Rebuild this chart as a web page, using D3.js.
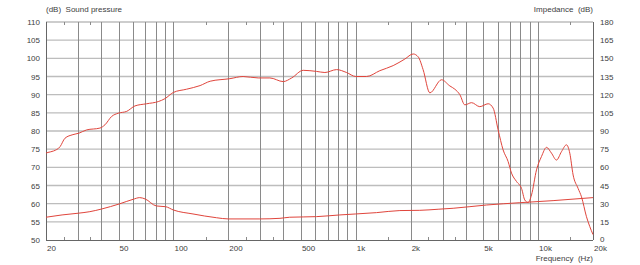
<!DOCTYPE html>
<html>
<head>
<meta charset="utf-8">
<script src="https://cdn.jsdelivr.net/npm/d3@7"></script>
<style>
  body { margin: 0; background: #fff; }
  svg { display: block; }
  text { font-family: "Liberation Sans", Arial, sans-serif; font-size: 8px; fill: #404040; }
</style>
</head>
<body>
<div id="chart"></div>
<script>
// SPL curve (Hz, dB) - left axis
var splFreq = [20, 20.5, 22, 23.9, 25.4, 28.1, 30.3, 33.4, 39.5, 42.1, 45.8, 49.8, 55.4, 61.5, 71.3, 82.6, 89.8, 99.8,
  118, 140, 159, 204, 241, 292, 338, 400, 445, 515, 610, 677, 785, 890, 1000, 1146, 1355, 1604, 1858, 2064, 2200,
  2340, 2548, 2954, 3280, 3495, 3722, 3964, 4316, 4788, 5320, 5668, 6036, 6428, 6846, 7148, 7614, 8110, 8453, 8812,
  9200, 9800, 10440, 11120, 11840, 12610, 13430, 14310, 14920, 15560, 16570, 17290, 18420, 19200, 20000];
var splDb = [73.9, 74.1, 74.5, 75.7, 78.0, 79.0, 79.4, 80.3, 80.8, 81.7, 84.0, 84.9, 85.4, 86.9, 87.5, 88.1, 88.9, 90.6,
  91.5, 92.5, 93.7, 94.4, 95.0, 94.6, 94.6, 93.6, 94.6, 96.7, 96.4, 96.1, 96.9, 96.1, 95.0, 95.0, 96.6, 98.0, 99.8, 101.2, 100.4,
  96.9, 90.5, 94.1, 92.4, 91.5, 90.0, 87.2, 87.8, 86.7, 87.5, 86.3, 80.3, 74.8, 71.6, 68.4, 66.1, 64.2, 61.0, 60.3,
  62.4, 69.3, 73.0, 75.5, 73.9, 72.0, 74.3, 76.2, 73.9, 67.9, 64.2, 61.9, 56.4, 53.7, 51.5];

// impedance curve (Hz, value) - right axis
var impFreq = [20, 24.5, 30, 34.8, 40.4, 50.5, 60.1, 65.3, 69.9, 80.6, 90.6, 99.8, 128, 172, 200, 298, 384, 434,
  610, 818, 1000, 1300, 1745, 2245, 2830, 3420, 5220, 7940, 12080, 20000];
var impVal = [18.8, 20.7, 22.1, 23.4, 25.6, 29.8, 33.6, 35.0, 33.9, 28.1, 27.5, 24.8, 21.5, 18.4, 17.4, 17.4, 17.9, 18.8,
  19.3, 20.7, 21.5, 22.6, 24.3, 24.5, 25.4, 26.2, 28.9, 30.8, 32.5, 35.0];

var gridFreq = [30, 40, 50, 60, 70, 80, 90, 100, 200, 300, 400, 500, 600, 700, 800, 900, 1000,
  2000, 3000, 4000, 5000, 6000, 7000, 8000, 9000, 10000];
var minorFreq = [25, 35, 150, 250, 350, 1500, 2500, 3500, 15000];
var labelFreq = [20, 50, 100, 200, 500, 1000, 2000, 5000, 10000, 20000];
var leftTicks = d3.range(50, 111, 5);
var rightTicks = d3.range(0, 181, 15);

var W = 640, H = 265;
var margin = {top: 22, right: 47, bottom: 25, left: 46};
var x0 = margin.left, x1 = W - margin.right, yTop = margin.top, yBot = H - margin.bottom;

var x = d3.scaleLog().domain([20, 20000]).range([x0, x1]);
var y = d3.scaleLinear().domain([50, 110]).range([yBot, yTop]);
var yR = d3.scaleLinear().domain([0, 180]).range([yBot, yTop]);

var svg = d3.select("#chart").append("svg")
    .attr("width", W)
    .attr("height", H);

// horizontal grid
svg.append("g").selectAll("line")
    .data(leftTicks.slice(1))
    .enter().append("line")
    .attr("x1", x0).attr("x2", x1)
    .attr("y1", function(d) { return y(d); })
    .attr("y2", function(d) { return y(d); })
    .style("stroke", "#bdbdbd")
    .style("stroke-width", 1.4);

// vertical grid
svg.append("g").selectAll("line")
    .data(gridFreq)
    .enter().append("line")
    .attr("x1", function(d) { return Math.round(x(d)) + 0.5; })
    .attr("x2", function(d) { return Math.round(x(d)) + 0.5; })
    .attr("y1", yTop).attr("y2", yBot)
    .style("stroke", "#8a8a8a")
    .style("stroke-width", 1);

// minor ticks top and bottom
minorFreq.forEach(function(f) {
  var px = Math.round(x(f)) + 0.5;
  svg.append("line").attr("x1", px).attr("x2", px).attr("y1", yTop).attr("y2", yTop + 3)
      .style("stroke", "#8a8a8a");
  svg.append("line").attr("x1", px).attr("x2", px).attr("y1", yBot - 3).attr("y2", yBot)
      .style("stroke", "#8a8a8a");
});

// frame
svg.append("line").attr("x1", x0 + 0.5).attr("x2", x0 + 0.5).attr("y1", yTop).attr("y2", yBot).style("stroke", "#666");
svg.append("line").attr("x1", x1 + 0.5).attr("x2", x1 + 0.5).attr("y1", yTop).attr("y2", yBot).style("stroke", "#666");
svg.append("line").attr("x1", x0).attr("x2", x1).attr("y1", yBot + 0.5).attr("y2", yBot + 0.5).style("stroke", "#666");

// lines
var splData = splFreq.map(function(f, i) { return {f: f, v: splDb[i]}; });
var impData = impFreq.map(function(f, i) { return {f: f, v: impVal[i]}; });

var splLine = d3.line()
    .x(function(d) { return x(d.f); })
    .y(function(d) { return y(d.v); })
    .curve(d3.curveMonotoneX);
var impLine = d3.line()
    .x(function(d) { return x(d.f); })
    .y(function(d) { return yR(d.v); })
    .curve(d3.curveMonotoneX);

svg.append("path")
    .datum(impData)
    .attr("fill", "none")
    .style("stroke", "#e0453c")
    .style("stroke-width", 1)
    .attr("d", impLine);

svg.append("path")
    .datum(splData)
    .attr("fill", "none")
    .style("stroke", "#e0453c")
    .style("stroke-width", 1)
    .attr("d", splLine);

// x labels (left aligned at the grid line)
var fmt = function(d) { return d >= 1000 ? (d / 1000) + "k" : d; };
svg.append("g").selectAll("text")
    .data(labelFreq)
    .enter().append("text")
    .attr("x", function(d) { return x(d) + 1; })
    .attr("y", yBot + 11)
    .text(fmt);

// left labels
svg.append("g").selectAll("text")
    .data(leftTicks)
    .enter().append("text")
    .attr("x", x0 - 6)
    .attr("y", function(d) { return y(d) + 3; })
    .attr("text-anchor", "end")
    .text(function(d) { return d; });

// right labels
svg.append("g").selectAll("text")
    .data(rightTicks)
    .enter().append("text")
    .attr("x", x1 + 7)
    .attr("y", function(d) { return yR(d) + (d === 0 ? 1.5 : 3); })
    .text(function(d) { return d; });

svg.append("text").attr("x", x0).attr("y", 12).text("(dB)  Sound pressure").style("white-space", "pre");
svg.append("text").attr("x", x1).attr("y", 12).attr("text-anchor", "end").text("Impedance  (dB)").style("white-space", "pre");
svg.append("text").attr("x", x1).attr("y", 261).attr("text-anchor", "end").text("Frequency  (Hz)").style("white-space", "pre");
</script>
</body>
</html>
